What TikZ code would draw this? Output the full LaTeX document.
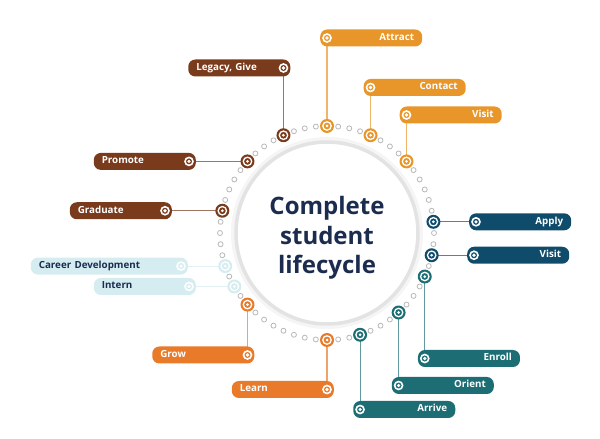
\documentclass[tikz,border=0pt]{standalone}
\usepackage{fontspec}
\setmainfont{Open Sans}
\usetikzlibrary{backgrounds}

\definecolor{orA}{HTML}{E8962A}
\definecolor{orB}{HTML}{E87A2A}
\definecolor{brC}{HTML}{7A3A1C}
\definecolor{nvC}{HTML}{0F4C6B}
\definecolor{tlC}{HTML}{1C6E74}
\definecolor{ltC}{HTML}{D5ECF0}
\definecolor{titreC}{HTML}{1B2C4F}

\tikzset{
  titre/.style={align=center, text=titreC, font=\bfseries\fontsize{24}{29.5}\selectfont},
  ringdot/.style={circle, draw=gray!55, fill=white, line width=0.8pt, minimum size=5pt, inner sep=0pt},
  ringmark/.style={circle, fill=#1, minimum size=14pt, inner sep=0pt,
    path picture={\draw[white, line width=1.3pt] (path picture bounding box.center) circle (4.2pt);
                  \fill[white] (path picture bounding box.center) circle (1.5pt);}},
  boxmark/.style={circle, minimum size=12pt, inner sep=0pt,
    path picture={\draw[white, line width=1.6pt] (path picture bounding box.center) circle (4pt);
                  \fill[white] (path picture bounding box.center) circle (1.8pt);}},
  lbl/.style={rounded corners=7pt, fill=#1, text=white, font=\bfseries\fontsize{9.8}{11}\selectfont,
    minimum height=17pt, inner xsep=8pt, inner ysep=0pt, text width=86pt, text height=7.2pt, text depth=2.2pt},
  lblL/.style={lbl=#1, anchor=west, align=right},
  lblR/.style={lbl=#1, anchor=east, align=left},
  link/.style={draw=#1!70!white, line width=1.1pt},
}

\begin{document}
\begin{tikzpicture}[x=1pt,y=1pt]
\useasboundingbox (0,0) rectangle (600,439);
\coordinate (c) at (327,206);

% Cercle central
\draw[gray!8, line width=8pt] (c) circle (92);
\node[circle, draw=gray!22, line width=3.5pt, fill=white, minimum size=182pt] (cercle) at (c) {};
\node[titre] (titre) at ([yshift=-5pt]c) {Complete\\student\\lifecycle};

% Anneau de points
\foreach \a in {0,6,...,354} {
  \node[ringdot] (d\a) at ([shift={(\a:107)}]c) {};
}

% Etiquettes verticales, repere a gauche
\foreach \nm/\ang/\col/\yb/\txt in {attract/90/orA/401/Attract, contact/66/orA/351.5/Contact,
    visitA/42/orA/324/Visit, enroll/-24/tlC/80.5/Enroll, orient/-48/tlC/53.5/Orient, arrive/-72/tlC/29.5/Arrive} {
  \node[ringmark=\col] (r-\nm) at ([shift={(\ang:107)}]c) {};
  \coordinate (p-\nm) at (r-\nm |- 0,\yb);
  \node[lblL=\col] (\nm) at ([xshift=-7pt]p-\nm) {\txt};
  \node[boxmark] (m-\nm) at (p-\nm) {};
  \begin{pgfonlayer}{background}
    \draw[link=\col] (r-\nm.center) -- (m-\nm.center);
  \end{pgfonlayer}
}

% Etiquettes verticales, repere a droite
\foreach \nm/\ang/\col/\yb/\txt in {legacy/114/brC/371/{Legacy, Give}, grow/-138/orB/84/Grow, learn/-90/orB/49.5/Learn} {
  \node[ringmark=\col] (r-\nm) at ([shift={(\ang:107)}]c) {};
  \coordinate (p-\nm) at (r-\nm |- 0,\yb);
  \node[lblR=\col] (\nm) at ([xshift=7pt]p-\nm) {\txt};
  \node[boxmark] (m-\nm) at (p-\nm) {};
  \begin{pgfonlayer}{background}
    \draw[link=\col] (r-\nm.center) -- (m-\nm.center);
  \end{pgfonlayer}
}

% Etiquettes horizontales, a droite du cercle
\foreach \nm/\ang/\col/\xb/\txt in {apply/6/nvC/476/Apply, visitB/-12/nvC/474/Visit} {
  \node[ringmark=\col] (r-\nm) at ([shift={(\ang:107)}]c) {};
  \coordinate (p-\nm) at (\xb,0 |- r-\nm);
  \node[lblL=\col] (\nm) at ([xshift=-7pt]p-\nm) {\txt};
  \node[boxmark] (m-\nm) at (p-\nm) {};
  \begin{pgfonlayer}{background}
    \draw[link=\col] (r-\nm.center) -- (m-\nm.center);
  \end{pgfonlayer}
}

% Etiquettes horizontales, a gauche du cercle
\foreach \nm/\ang/\col/\xb/\tw/\tc/\txt in {promote/138/brC/189/86/white/Promote, graduate/168/brC/165/86/white/Graduate,
    career/-162/ltC/181/141/titreC/Career Development, intern/-150/ltC/189/86/titreC/Intern} {
  \node[ringmark=\col] (r-\nm) at ([shift={(\ang:107)}]c) {};
  \coordinate (p-\nm) at (\xb,0 |- r-\nm);
  \node[lblR=\col, text=\tc, text width=\tw pt] (\nm) at ([xshift=7pt]p-\nm) {\txt};
  \node[boxmark] (m-\nm) at (p-\nm) {};
  \begin{pgfonlayer}{background}
    \draw[link=\col] (r-\nm.center) -- (m-\nm.center);
  \end{pgfonlayer}
}
\end{tikzpicture}
\end{document}
